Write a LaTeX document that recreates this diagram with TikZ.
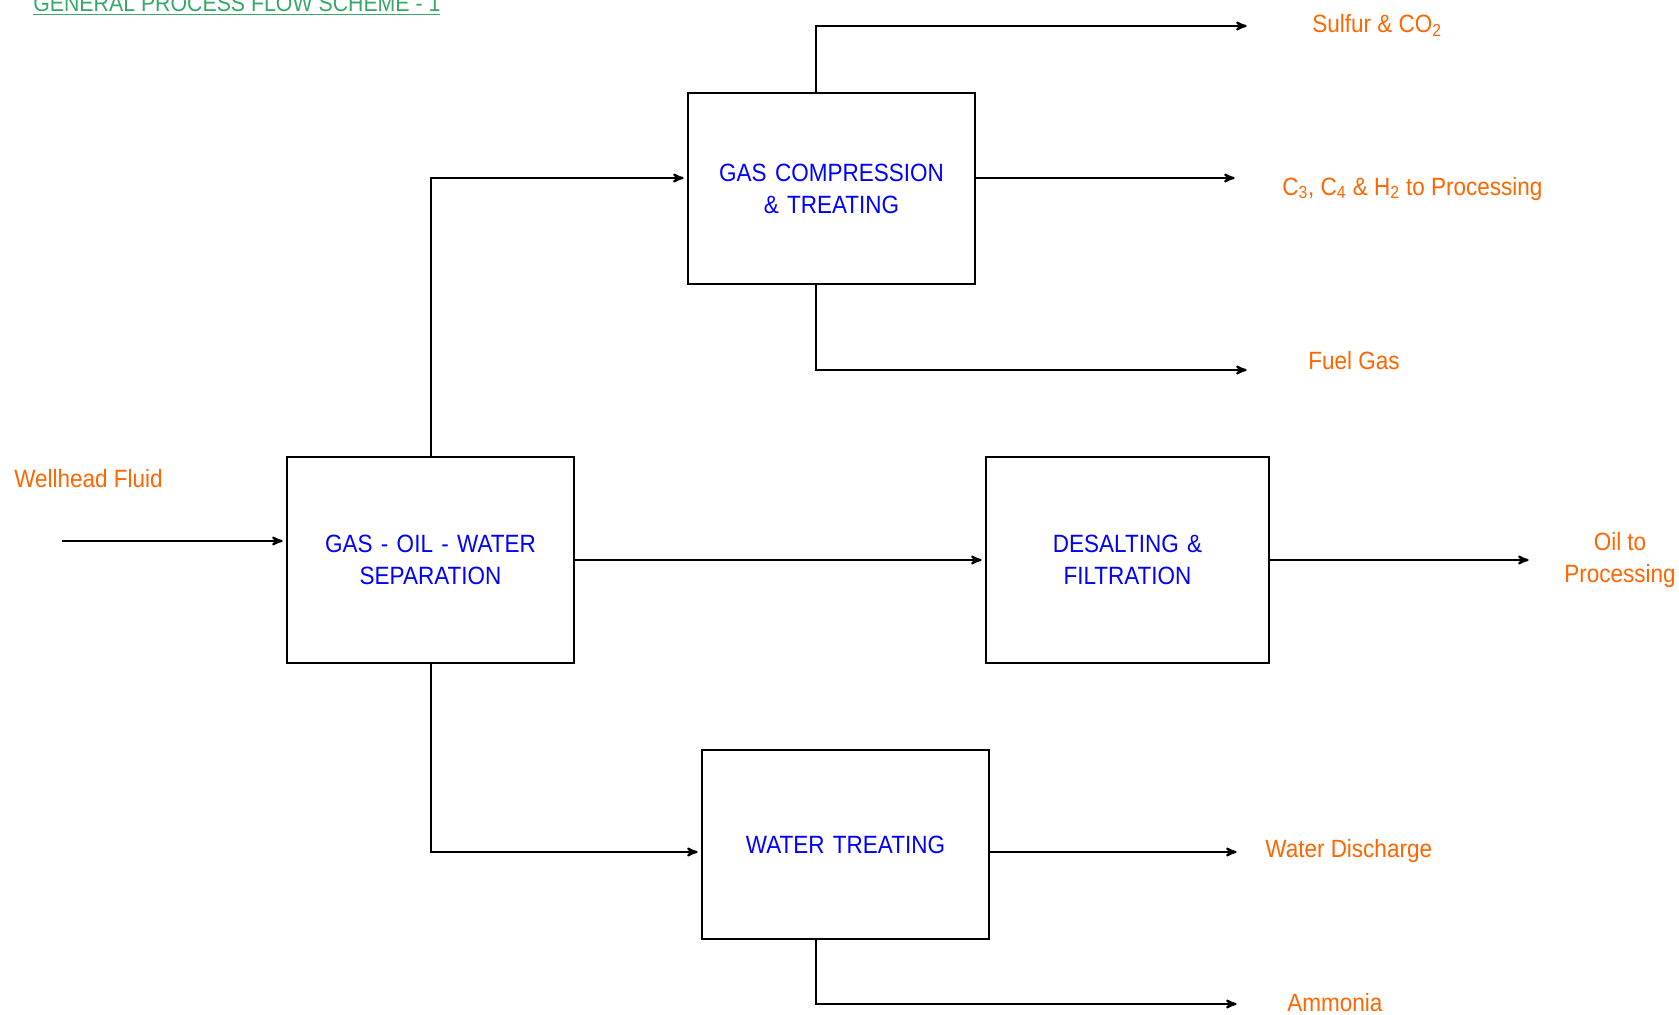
\documentclass[tikz,border=0pt]{standalone}
\usepackage{fontspec}
\setmainfont{Liberation Sans}[FakeStretch=0.9]
\usetikzlibrary{arrows,positioning}
\definecolor{streamorange}{RGB}{255,102,0}
\definecolor{unitblue}{RGB}{0,0,255}
\definecolor{titlegreen}{RGB}{56,168,104}
\tikzset{
    %Define standard arrow tip
    >=stealth',
    %Define style for process units
    unit/.style={
           rectangle,
           draw=black, line width=1.2pt,
           text=unitblue,
           text width=160pt,
           minimum width=172.2pt,
           minimum height=123.6pt,
           inner sep=0pt,
           text centered,
           font=\fontsize{15}{19.2}\selectfont},
    % Define style for stream labels
    stream/.style={
           text=streamorange,
           anchor=base west,
           inner sep=0pt,
           font=\fontsize{15}{19.2}\selectfont},
    % Define arrow style
    flow/.style={
           ->,
           line width=1.2pt,
           shorten >=2pt}
}

\begin{document}
\begin{tikzpicture}[x=0.6pt, y=-0.6pt]
    \useasboundingbox (0,0) rectangle (1679,1015);
 %nodes
    \node[anchor=base west, text=titlegreen, inner sep=0pt, font=\fontsize{14.2}{18}\selectfont] (title) at (33,12) {\underline{GENERAL PROCESS FLOW SCHEME - 1}};
    \node[unit] (sep) at (430.5,560) {GAS - OIL - WATER\\SEPARATION};
    \node[unit, minimum width=169.8pt, right=246pt of sep] (desalt) {DESALTING \&\\FILTRATION};
    \node[unit, minimum height=114.6pt, above right=102.6pt and 67.2pt of sep] (gas) {GAS COMPRESSION\\\& TREATING};
    \node[unit, minimum height=113.4pt, below right=51pt and 75.6pt of sep] (water) {WATER TREATING};
 %labels
    \node[stream] (wellhead) at (14,487) {Wellhead Fluid};
    \node[stream] (sulfur) at (1312,33) {Sulfur \& CO\textsubscript{2}};
    \node[stream] (lights) at (1282,195) {C\textsubscript{3}, C\textsubscript{4} \& H\textsubscript{2} to Processing};
    \node[stream] (fuel) at (1308,369) {Fuel Gas};
    \node[stream, anchor=center, align=center] (oil) at (1620,560) {Oil to\\Processing};
    \node[stream] (discharge) at (1265,857) {Water Discharge};
    \node[stream] (ammonia) at (1287,1011) {Ammonia};
 %end points
    \coordinate (feed) at (62,541);
    \coordinate (oilout) at (1532,560);
    \coordinate (sulfurout) at (1250,26);
    \coordinate (lightsout) at (1238,178);
    \coordinate (fuelout) at (1250,370);
    \coordinate (dischargeout) at (1240,852);
    \coordinate (ammoniaout) at (1240,1004);
 %edges
    \draw[flow] (feed) -- (feed -| sep.west);
    \draw[flow] (sep.north) |- (gas.west |- lightsout);
    \draw[flow] (sep.east) -- (desalt.west);
    \draw[flow] (sep.south) |- (water.west |- dischargeout);
    \draw[flow] (desalt.east) -- (oilout);
    \draw[flow] ([xshift=-9.6pt]gas.north) |- (sulfurout);
    \draw[flow] (gas.east |- lightsout) -- (lightsout);
    \draw[flow] ([xshift=-9.6pt]gas.south) |- (fuelout);
    \draw[flow] (water.east |- dischargeout) -- (dischargeout);
    \draw[flow] ([xshift=-17.7pt]water.south) |- (ammoniaout);
\end{tikzpicture}
\end{document}
